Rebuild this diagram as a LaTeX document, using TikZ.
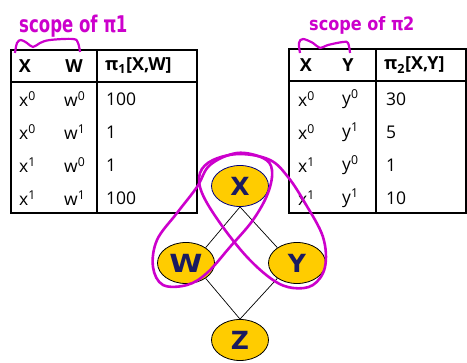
\documentclass[tikz,border=0pt]{standalone}
\usepackage{fontspec}
\usepackage{graphicx}
\setmainfont{Open Sans}
\newfontfamily\nodefont{DejaVu Sans}
\newfontfamily\handfont{DejaVu Sans}
\usetikzlibrary{shapes.geometric}
\definecolor{gold}{HTML}{FFCC00}
\definecolor{navy}{HTML}{1A1A60}
\definecolor{ink}{HTML}{CC00CC}
\tikzset{
  tabline/.style={line width=2pt,black},
  var/.style={ellipse,draw=black,line width=0.8pt,fill=gold,minimum width=57pt,minimum height=41pt,inner sep=0pt,font=\nodefont\fontsize{25}{25}\bfseries\selectfont,text=navy},
  edge/.style={line width=0.7pt,black},
  cell/.style={anchor=west,inner sep=0pt,font=\fontsize{17.5}{17}\selectfont},
  head/.style={anchor=center,inner sep=0pt,font=\fontsize{18}{18}\bfseries\selectfont},
  loop/.style={ink,line width=2.6pt},
  hand/.style={ink,anchor=base west,inner sep=0pt,font=\handfont\fontsize{23}{23}\bfseries\selectfont}
}
\newcommand{\sps}[1]{\textsuperscript{#1}}
\begin{document}
\begin{tikzpicture}[x=1pt,y=-1pt]
\useasboundingbox (0,0) rectangle (467,363);
% table 1
\draw[tabline] (11,50) rectangle (197,213);
\draw[tabline] (11,82) -- (197,82);
\draw[tabline] (97,50) -- (97,213);
\node[head] (h1x) at (25,66) {X};
\node[head] (h1w) at (74,66) {W};
\node[head,anchor=west] (h1p) at (105,66) {π\textsubscript{1}[X,W]};
\foreach \y/\a/\b/\v [count=\i] in {99/0/0/100,132/0/1/1,165/1/0/1,198/1/1/100}{
  \node[cell] (r1x\i) at (19,\y) {x\sps{\a}};
  \node[cell] (r1w\i) at (64,\y) {w\sps{\b}};
  \node[cell] (r1v\i) at (106,\y) {\v};
}
% table 2
\draw[tabline] (289,49) rectangle (466,213);
\draw[tabline] (289,81) -- (466,81);
\draw[tabline] (376,49) -- (376,213);
\node[head] (h2x) at (306,65) {X};
\node[head] (h2y) at (348,65) {Y};
\node[head,anchor=west] (h2p) at (384,65) {π\textsubscript{2}[X,Y]};
\foreach \y/\a/\b/\v [count=\i] in {99/0/0/30,132/0/1/5,165/1/0/1,198/1/1/10}{
  \node[cell] (r2x\i) at (298,\y) {x\sps{\a}};
  \node[cell] (r2y\i) at (342,\y) {y\sps{\b}};
  \node[cell] (r2v\i) at (386,\y) {\v};
}
% graph
\node[var,draw=blue!50!black] (X) at (240,186) {X};
\node[var] (W) at (186,263) {\scalebox{1.2}[1]{W}};
\node[var] (Y) at (297,263) {Y};
\node[var] (Z) at (240,340) {Z};
\draw[edge] (X.south) -- (W.38);
\draw[edge] (X.south) -- (Y.142);
\draw[edge] (Z.north) -- (W.-38);
\draw[edge] (Z.north) -- (Y.-142);
% magenta loops
\draw[loop] plot[smooth cycle,tension=0.6] coordinates {(240,154) (270,160) (288,177) (305,203) (323,237) (325,267) (313,285) (293,288) (273,280) (247,257) (220,223) (202,193) (200,173) (213,160)};
\draw[loop] plot[smooth cycle,tension=0.6] coordinates {(237,153) (263,158) (272,170) (268,193) (253,220) (230,247) (207,273) (187,285) (163,285) (153,267) (157,240) (177,213) (197,187) (210,165)};
% handwriting
\node[hand] (s1) at (19,33) {\scalebox{0.72}[1]{scope of π\kern-1pt1}};
\node[hand] (s2) at (309,31) {\scalebox{0.7}[0.8]{scope of π\kern-1pt2}};
\draw[loop,line width=2.2pt] plot[smooth,tension=0.6] coordinates {(15,53) (17,43) (21,40) (27,43) (33,47) (40,43) (50,40) (73,39) (78,43) (80,52)};
\draw[loop,line width=2.2pt] plot[smooth,tension=0.6] coordinates {(300,53) (299,43) (303,39) (313,43) (320,48) (328,45) (343,42) (348,43) (350,53)};
\end{tikzpicture}
\end{document}
